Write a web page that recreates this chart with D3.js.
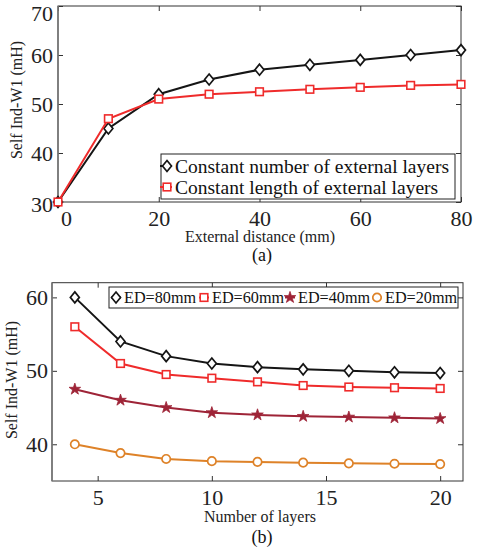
<!DOCTYPE html>
<meta charset="utf-8">
<style>
body { margin: 0; background: #fff; }
.axis path, .axis line { stroke: #333; }
.axis text { fill: #222; }
</style>
<body>
<svg width="479" height="552"></svg>
<script src="https://d3js.org/d3.v7.min.js"></script>
<script>
// chart (a)
var distA = [0, 10, 20, 30, 40, 50, 60, 70, 80];
var constNumber = [30, 45, 52, 55, 57, 58, 59, 60, 61];
var constLength = [30, 47, 51, 52, 52.5, 53, 53.4, 53.8, 54];
var seriesA = ["Constant number of external layers", "Constant length of external layers"];

// chart (b)
var layersB = [4, 6, 8, 10, 12, 14, 16, 18, 20];
var ed80 = [60, 54, 52, 51, 50.5, 50.2, 50, 49.8, 49.7];
var ed60 = [56, 51, 49.5, 49, 48.5, 48, 47.8, 47.7, 47.6];
var ed40 = [47.5, 46, 45, 44.3, 44, 43.8, 43.7, 43.6, 43.5];
var ed20 = [40, 38.8, 38, 37.7, 37.6, 37.5, 37.4, 37.35, 37.3];
var seriesB = ["ED=80mm", "ED=60mm", "ED=40mm", "ED=20mm"];

var serif = "'Liberation Serif', 'Times New Roman', Times, serif";
var svg = d3.select("svg");
svg.append("rect").attr("width", 479).attr("height", 552).attr("fill", "#fff");

var black = "#151515", red = "#ef2b2b", darkred = "#9e2437", orange = "#de8228";

function marker(g, kind, color) {
  if (kind == "diamond") {
    g.append("path").attr("d", "M0,-5.5L4.5,0L0,5.5L-4.5,0Z")
      .attr("fill", "#fff").attr("stroke", color).attr("stroke-width", 1.7);
  } else if (kind == "square") {
    g.append("rect").attr("x", -3.8).attr("y", -3.8).attr("width", 7.6).attr("height", 7.6)
      .attr("fill", "#fff").attr("stroke", color).attr("stroke-width", 1.6);
  } else if (kind == "star") {
    g.append("path").attr("d", d3.symbol(d3.symbolStar, 42)())
      .attr("fill", color).attr("stroke", color).attr("stroke-width", 0.8);
  } else {
    g.append("circle").attr("r", 4.2)
      .attr("fill", "#fff").attr("stroke", color).attr("stroke-width", 1.7);
  }
}

function frame(g, x, y, xt, yt, fs, ypad) {
  var w = x.range()[1] - x.range()[0], h = y.range()[0] - y.range()[1];
  g.append("g").attr("class", "axis").attr("transform", "translate(0," + y.range()[0] + ")")
    .call(d3.axisBottom(x).tickValues(xt).tickSizeInner(-5).tickSizeOuter(0).tickPadding(8))
    .selectAll("text").style("font-size", fs + "px");
  g.append("g").attr("class", "axis").attr("transform", "translate(0," + y.range()[1] + ")")
    .call(d3.axisTop(x).tickValues(xt).tickSizeInner(-5).tickSizeOuter(0).tickFormat(""));
  g.append("g").attr("class", "axis").attr("transform", "translate(" + x.range()[0] + ",0)")
    .call(d3.axisLeft(y).tickValues(yt).tickSizeInner(-5).tickSizeOuter(0).tickPadding(ypad))
    .selectAll("text").style("font-size", fs + "px");
  g.append("g").attr("class", "axis").attr("transform", "translate(" + x.range()[1] + ",0)")
    .call(d3.axisRight(y).tickValues(yt).tickSizeInner(-5).tickSizeOuter(0).tickFormat(""));
  g.selectAll(".axis .domain").remove();
  g.append("rect").attr("x", x.range()[0]).attr("y", y.range()[1])
    .attr("width", w).attr("height", h)
    .attr("fill", "none").attr("stroke", "#333").attr("stroke-width", 1);
  // left spine is lighter grey and a bit thicker in the original
  g.append("line").attr("x1", x.range()[0]).attr("x2", x.range()[0])
    .attr("y1", y.range()[1]).attr("y2", y.range()[0])
    .attr("stroke", "#7a7a7a").attr("stroke-width", 1.6);
}

function drawSeries(g, x, y, xs, ys, color, kind) {
  var line = d3.line().x(function(d, i) { return x(xs[i]); }).y(function(d) { return y(d); });
  g.append("path").attr("d", line(ys)).attr("fill", "none")
    .attr("stroke", color).attr("stroke-width", 2);
  ys.forEach(function(v, i) {
    marker(g.append("g").attr("transform", "translate(" + x(xs[i]) + "," + y(v) + ")"), kind, color);
  });
}

// ---- (a)
var xa = d3.scaleLinear().domain([0, 80]).range([58, 461]);
var ya = d3.scaleLinear().domain([30, 70]).range([202, 6]);
var ga = svg.append("g");
frame(ga, xa, ya, [0, 20, 40, 60, 80], [30, 40, 50, 60, 70], 22, 5);
ga.selectAll("text").filter(function() { return d3.select(this).text() == "0"; }).attr("dx", 8);
ga.selectAll("text").filter(function() { return d3.select(this).text() == "70"; }).attr("dy", "0.66em");
ga.selectAll("text").filter(function() { return d3.select(this).text() == "30"; }).attr("dy", "0.45em");

drawSeries(ga, xa, ya, distA, constNumber, black, "diamond");
drawSeries(ga, xa, ya, distA, constLength, red, "square");

var la = ga.append("g");
la.append("rect").attr("x", 161).attr("y", 154).attr("width", 294).attr("height", 45)
  .attr("fill", "#fff").attr("stroke", "#222").attr("stroke-width", 1);
[[black, "diamond"], [red, "square"]].forEach(function(s, i) {
  var yy = 166 + i * 21;
  la.append("line").attr("x1", 160).attr("x2", 172).attr("y1", yy).attr("y2", yy)
    .attr("stroke", s[0]).attr("stroke-width", 2);
  marker(la.append("g").attr("transform", "translate(167," + yy + ")"), s[1], s[0]);
  la.append("text").attr("x", 175).attr("y", yy).attr("dy", "0.35em")
    .style("font-size", "19.5px").attr("fill", "#111").text(seriesA[i]);
});

ga.append("text").attr("x", 260).attr("y", 242).attr("text-anchor", "middle")
  .style("font-size", "16px").attr("fill", "#222").text("External distance (mm)");
ga.append("text").attr("transform", "translate(22,100) rotate(-90)").attr("text-anchor", "middle")
  .style("font-size", "16px").attr("fill", "#222").text("Self  Ind-W1 (mH)");
ga.append("text").attr("x", 262).attr("y", 261).attr("text-anchor", "middle")
  .style("font-size", "18px").attr("fill", "#111").text("(a)");

// ---- (b)
var xb = d3.scaleLinear().domain([3, 21]).range([52, 463]);
var yb = d3.scaleLinear().domain([35, 62]).range([481, 282.7]);
var gb = svg.append("g");
frame(gb, xb, yb, [5, 10, 15, 20], [40, 50, 60], 22, 4);

drawSeries(gb, xb, yb, layersB, ed80, black, "diamond");
drawSeries(gb, xb, yb, layersB, ed60, red, "square");
drawSeries(gb, xb, yb, layersB, ed40, darkred, "star");
drawSeries(gb, xb, yb, layersB, ed20, orange, "circle");

var lb = gb.append("g");
lb.append("rect").attr("x", 109).attr("y", 287).attr("width", 349).attr("height", 21)
  .attr("fill", "#fff").attr("stroke", "#222").attr("stroke-width", 1);
var itemX = [116, 204, 290, 377];
[[black, "diamond"], [red, "square"], [darkred, "star"], [orange, "circle"]].forEach(function(s, i) {
  var yy = 297.5;
  lb.append("line").attr("x1", itemX[i] - 5).attr("x2", itemX[i] + 5).attr("y1", yy).attr("y2", yy)
    .attr("stroke", s[0]).attr("stroke-width", 2);
  marker(lb.append("g").attr("transform", "translate(" + itemX[i] + "," + yy + ")"), s[1], s[0]);
  lb.append("text").attr("x", itemX[i] + 8).attr("y", yy).attr("dy", "0.35em")
    .style("font-size", "16.2px").attr("fill", "#111").text(seriesB[i]);
});

gb.append("text").attr("x", 260).attr("y", 522).attr("text-anchor", "middle")
  .style("font-size", "16px").attr("fill", "#222").text("Number of layers");
gb.append("text").attr("transform", "translate(17,380) rotate(-90)").attr("text-anchor", "middle")
  .style("font-size", "16px").attr("fill", "#222").text("Self Ind-W1 (mH)");
gb.append("text").attr("x", 262).attr("y", 543).attr("text-anchor", "middle")
  .style("font-size", "18px").attr("fill", "#111").text("(b)");

// serif everywhere, set on each text so the axis default sans-serif cannot win
svg.selectAll("g").attr("font-family", serif);
svg.selectAll("text").style("font-family", serif);
</script>
</body>
